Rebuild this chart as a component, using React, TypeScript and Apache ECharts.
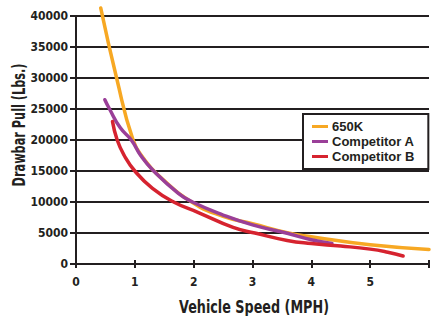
import React, { useEffect, useRef } from "react";
import * as echarts from "echarts";

const seriesNames = ["650K", "Competitor A", "Competitor B"];
const seriesColors = ["#f7a823", "#9a3f98", "#d6232f"];

const speed650K = [0.42, 0.69, 0.97, 1.15, 1.4, 2.0, 2.5, 3.0, 3.59, 4.0, 5.0, 6.0];
const pull650K = [41300, 30000, 20000, 17000, 14300, 9800, 7700, 6500, 5050, 4400, 3100, 2350];

const speedA = [0.49, 0.57, 0.75, 0.94, 1.1, 1.32, 1.74, 1.98, 2.5, 3.0, 3.59, 4.0, 4.35];
const pullA = [26500, 25000, 22000, 20000, 17500, 15000, 11400, 10000, 7900, 6300, 4950, 3900, 3300];

const speedB = [0.62, 0.7, 0.82, 1.0, 1.3, 1.66, 2.08, 2.67, 3.04, 3.59, 4.0, 4.5, 5.0, 5.3, 5.56];
const pullB = [23000, 20000, 17500, 15000, 12200, 10000, 8300, 5900, 5000, 3800, 3300, 2900, 2400, 1900, 1300];

const xTicks = [0, 1, 2, 3, 4, 5];
const yTicks = [0, 5000, 10000, 15000, 20000, 25000, 30000, 35000, 40000];

const xTitle = "Vehicle Speed (MPH)";
const yTitle = "Drawbar Pull (Lbs.)";

const zip = (xs: number[], ys: number[]) => xs.map((x, i) => [x, ys[i]]);

const NARROW = '"Liberation Sans Narrow", "DejaVu Sans Condensed", "Arial Narrow", sans-serif';
const SANS = '"Liberation Sans", Arial, Helvetica, sans-serif';
const INK = "#231f20";

export default function App() {
  const ref = useRef<HTMLDivElement>(null);
  useEffect(() => {
    if (!ref.current) return;
    const chart = echarts.init(ref.current, undefined, { renderer: "svg" });
    const datasets = [zip(speed650K, pull650K), zip(speedA, pullA), zip(speedB, pullB)];
    chart.setOption({
      animation: false,
      backgroundColor: "#ffffff",
      grid: { left: 76, right: -2, top: 16, bottom: 52, containLabel: false },
      legend: {
        data: seriesNames,
        orient: "vertical",
        left: 303,
        top: 114,
        itemWidth: 16,
        itemHeight: 3,
        itemGap: 2,
        icon: "rect",
        padding: [6, 14, 6, 9],
        backgroundColor: "#ffffff",
        borderColor: INK,
        borderWidth: 2,
        borderRadius: 0,
        textStyle: { fontFamily: SANS, fontWeight: "bold", fontSize: 13, color: INK, padding: [0, 0, 0, -1] },
      },
      xAxis: [
        {
          type: "value",
          min: 0,
          max: 6,
          interval: 1,
          axisLine: { show: true, lineStyle: { color: INK, width: 2 } },
          axisTick: { show: true, length: 4, lineStyle: { color: INK, width: 2 } },
          splitLine: { show: false },
          axisLabel: {
            margin: 12,
            fontFamily: NARROW,
            fontWeight: "bold",
            fontSize: 12,
            color: INK,
            formatter: (v: number) => (xTicks.includes(v) ? String(v) : ""),
          },
        },
        {
          type: "value",
          min: 0,
          max: 6,
          interval: 1,
          position: "bottom",
          axisLine: { show: false },
          axisTick: { show: true, inside: true, length: 4, lineStyle: { color: INK, width: 2 } },
          splitLine: { show: false },
          axisLabel: { show: false },
        },
      ],
      yAxis: {
        type: "value",
        min: 0,
        max: 40000,
        interval: 5000,
        axisLine: { show: true, lineStyle: { color: INK, width: 2 } },
        axisTick: { show: true, length: 6, lineStyle: { color: INK, width: 2 } },
        splitLine: { show: true, lineStyle: { color: INK, width: 2 } },
        axisLabel: {
          margin: 8,
          fontFamily: NARROW,
          fontWeight: "bold",
          fontSize: 12,
          color: INK,
          formatter: (v: number) => (yTicks.includes(v) ? String(v) : ""),
        },
      },
      graphic: [
        {
          type: "text",
          x: 254,
          y: 307,
          scaleX: 0.835,
          style: {
            text: xTitle,
            fontFamily: NARROW,
            fontWeight: "bold",
            fontSize: 17,
            fill: INK,
            align: "center",
            verticalAlign: "middle",
          },
        },
        {
          type: "text",
          x: 19,
          y: 125,
          rotation: Math.PI / 2,
          scaleX: 0.74,
          style: {
            text: yTitle,
            fontFamily: NARROW,
            fontWeight: "bold",
            fontSize: 17,
            fill: INK,
            align: "center",
            verticalAlign: "middle",
          },
        },
      ],
      series: seriesNames.map((name, i) => ({
        name,
        type: "line",
        data: datasets[i],
        smooth: 0.5,
        showSymbol: false,
        clip: false,
        color: seriesColors[i],
        lineStyle: { color: seriesColors[i], width: 3.5, cap: "round" },
        z: 3 + i,
      })),
    });
    return () => chart.dispose();
  }, []);
  return <div ref={ref} style={{ position: "fixed", left: 0, top: 0, width: 432, height: 316 }} />;
}
